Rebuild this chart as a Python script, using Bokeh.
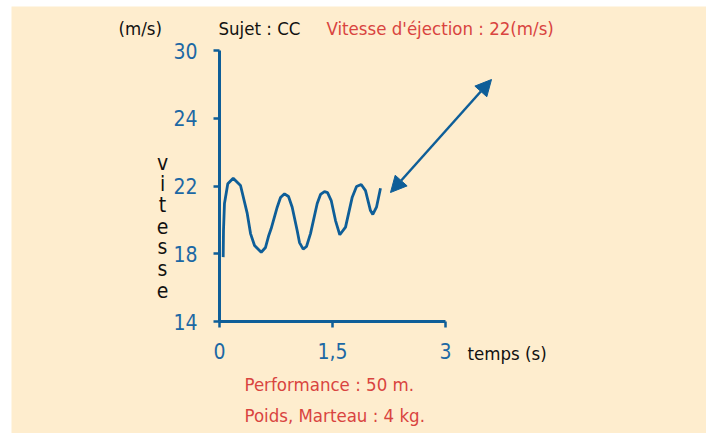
from bokeh.plotting import figure
from bokeh.models import FixedTicker, Range1d, Arrow, NormalHead
from bokeh.core.properties import value
from bokeh.embed import file_html
from bokeh.resources import INLINE

# ---- data ----
time_s = [0.049, 0.053, 0.066, 0.110, 0.182, 0.279, 0.368, 0.412, 0.465, 0.554,
          0.611, 0.654, 0.686, 0.766, 0.810, 0.863, 0.916, 0.965, 1.031, 1.062,
          1.111, 1.155, 1.208, 1.297, 1.341, 1.394, 1.434, 1.483, 1.540, 1.597,
          1.673, 1.762, 1.819, 1.881, 1.938, 2.004, 2.035, 2.084, 2.137]
speed = [17.80, 19.37, 20.97, 22.13, 22.46, 22.03, 20.38, 19.19, 18.49, 18.09,
         18.37, 19.08, 19.49, 20.75, 21.32, 21.54, 21.38, 20.75, 19.37, 18.66,
         18.27, 18.43, 19.19, 20.97, 21.50, 21.67, 21.61, 21.14, 19.96, 19.12,
         19.57, 21.34, 21.97, 22.09, 21.73, 20.55, 20.32, 20.75, 21.87]

x_ticks = [0, 1.5, 3]
x_tick_labels = ["0", "1,5", "3"]
y_ticks = [14, 18, 22, 26, 30]
y_tick_labels = ["14", "18", "22", "24", "30"]

title_unit = "(m/s)"
title_subject = "Sujet : CC"
title_speed = "Vitesse d'éjection : 22(m/s)"
y_title_letters = list("vitesse")
x_title = "temps (s)"
note_lines = ["Performance : 50 m.", "Poids, Marteau : 4 kg."]

# ---- styles / layout ----
CREAM = "#FEEDCE"
BLUE = "#0E5E98"
BLUE_TXT = "#1C68A4"
RED = "#D9443F"
BLACK = "#111111"
FONT = "DejaVu Sans Condensed"

W, H = 706, 433
LEFT, TOP = 11, 6
# figure pixel positions of axis ends
X0_PX, X3_PX = 219, 445
Y14_PX, Y30_PX = 321, 50
sx = (X3_PX - X0_PX) / 3.0
sy = (Y14_PX - Y30_PX) / 16.0

def dx(px):
    return (px - X0_PX) / sx

def dy(py):
    return 14 + (Y14_PX - py) / sy

p = figure(width=W, height=H, output_backend="svg", toolbar_location=None,
           x_range=Range1d(dx(LEFT), dx(W)), y_range=Range1d(dy(H), dy(TOP)),
           min_border=0, min_border_left=LEFT, min_border_right=0,
           min_border_top=TOP, min_border_bottom=0)
p.background_fill_color = CREAM
p.border_fill_color = "white"
p.outline_line_color = None
p.grid.visible = False

# axes
xa = p.xaxis[0]
xa.fixed_location = 14
xa.bounds = (0, 3)
xa.ticker = FixedTicker(ticks=x_ticks)
xa.major_label_overrides = {t: l for t, l in zip(x_ticks, x_tick_labels)}
ya = p.yaxis[0]
ya.fixed_location = 0
ya.bounds = (14, 30)
ya.ticker = FixedTicker(ticks=y_ticks)
ya.major_label_overrides = {t: l for t, l in zip(y_ticks, y_tick_labels)}
for ax in (xa, ya):
    ax.axis_line_color = BLUE
    ax.axis_line_width = 3
    ax.major_tick_line_color = BLUE
    ax.major_tick_line_width = 2.5
    ax.major_tick_in = 0
    ax.major_tick_out = 6
    ax.minor_tick_line_color = None
    ax.major_label_text_color = BLUE_TXT
    ax.major_label_text_font = FONT
    ax.major_label_text_font_size = "21px"
xa.major_label_standoff = 15
ya.major_label_standoff = 16

# curve
p.line(time_s, speed, line_color=BLUE, line_width=2.8)

# double arrow
p.add_layout(Arrow(
    start=NormalHead(size=16, fill_color=BLUE, line_color=BLUE),
    end=NormalHead(size=16, fill_color=BLUE, line_color=BLUE),
    x_start=dx(390), y_start=dy(192), x_end=dx(491), y_end=dy(79),
    line_color=BLUE, line_width=2.5))

def txt(x, y, s, color, size="18.5px", align="left", baseline="middle"):
    p.text(x=[x], y=[y], text=[s], text_color=color, text_font=value(FONT),
           text_font_size=size, text_align=align, text_baseline=baseline)

txt(dx(118), dy(28), title_unit, BLACK)
txt(dx(218), dy(28), title_subject, BLACK)
txt(dx(326), dy(28), title_speed, RED)
for i, ch in enumerate(y_title_letters):
    txt(dx(162), dy(162 + 21.2 * i), ch, BLACK, size="21px", align="center",
        baseline="alphabetic")
txt(dx(467), dy(353), x_title, BLACK)
txt(dx(244), dy(384), note_lines[0], RED)
txt(dx(244), dy(415), note_lines[1], RED)

open("out.html", "w").write(file_html(p, INLINE))
